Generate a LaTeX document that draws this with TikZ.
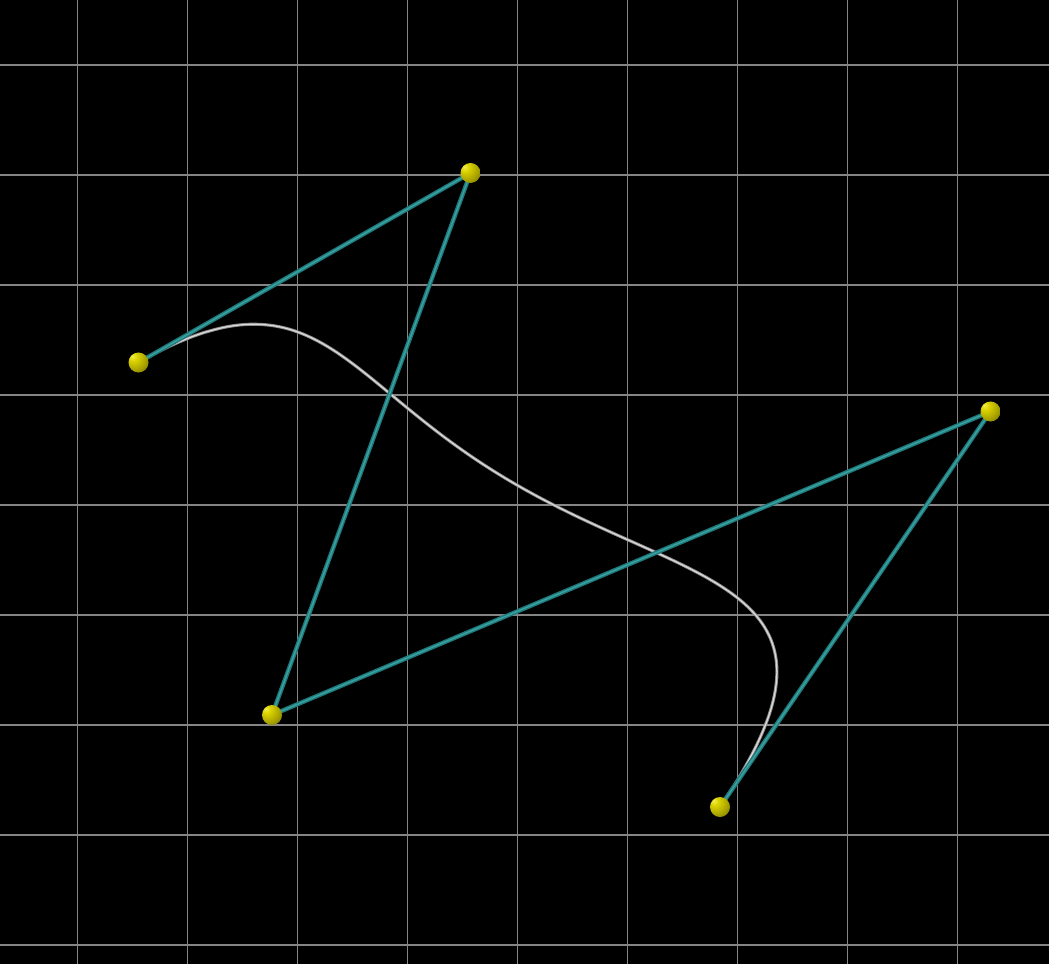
\documentclass[tikz,border=0pt]{standalone}
\usetikzlibrary{calc}

% Shading of the control points
\definecolor{ballColour}{HTML}{DCD400}
\definecolor{ballLight}{HTML}{F2EE50}
\pgfdeclareradialshading{yellowball}{\pgfpoint{-16bp}{16bp}}{%
    color(0bp)=(ballLight); color(10bp)=(ballColour);
    color(30bp)=(ballColour!75!black); color(50bp)=(ballColour!40!black);
    color(68bp)=(ballColour!15!black); color(80bp)=(black)}

\begin{document}
\begin{tikzpicture}[x=0.025cm, y=-0.025cm,
    gridline/.style={draw=gridColour, line width=0.9pt},
    ctrl/.style={draw=ctrlColour, line width=3.1pt},
    ctrlhi/.style={draw=ctrlLight, line width=1.1pt},
    curveline/.style={draw=curveColour, line width=2.2pt},
    curvehi/.style={draw=curveLight, line width=0.9pt},
    ball/.style={circle, inner sep=0pt, minimum size=0.5cm, shading=yellowball}]
    % Define colours
    \definecolor{gridColour}{HTML}{858585}
    \definecolor{ctrlColour}{HTML}{1E7A7A}
    \definecolor{ctrlLight}{HTML}{3A9FA0}
    \definecolor{curveColour}{HTML}{8C8C8C}
    \definecolor{curveLight}{HTML}{DADADA}

    % Background
    \fill[black] (0,0) rectangle (1049,964);
    \useasboundingbox (0,0) rectangle (1049,964);

    % Draw grid
    \foreach \i in {0,...,8} {
        \draw[gridline] ({77.3+110*\i},0) -- ({77.3+110*\i},964);
        \draw[gridline] (0,{65+110*\i}) -- (1049,{65+110*\i});
    }

    % Control points
    \coordinate (c0) at (138.5,362.5);
    \coordinate (c1) at (470.5,173);
    \coordinate (c2) at (272,715);
    \coordinate (c3) at (990.5,411.5);
    \coordinate (c4) at (720,807);

    % Draw the quartic Bezier curve
    \foreach \s in {curveline, curvehi}
        \draw[\s] plot[domain=0:1, samples=160, variable=\t]
            ({(1-\t)^4*138.5 + 4*(1-\t)^3*\t*470.5 + 6*(1-\t)^2*\t^2*272 + 4*(1-\t)*\t^3*990.5 + \t^4*720},
             {(1-\t)^4*362.5 + 4*(1-\t)^3*\t*173 + 6*(1-\t)^2*\t^2*715 + 4*(1-\t)*\t^3*411.5 + \t^4*807});

    % Draw the control polygon
    \foreach \s in {ctrl, ctrlhi}
        \draw[\s] (c0) -- (c1) -- (c2) -- (c3) -- (c4);

    % Draw the control points
    \foreach \n in {0,...,4}
        \node[ball] (p\n) at (c\n) {};

\end{tikzpicture}
\end{document}
